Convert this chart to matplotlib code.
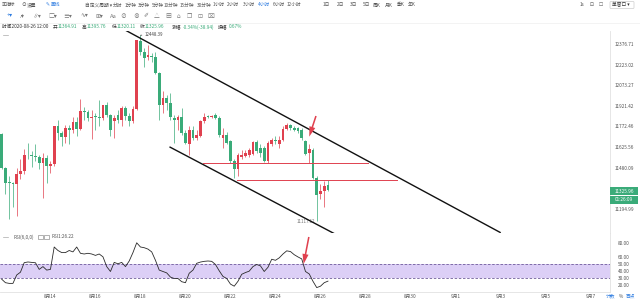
import matplotlib

matplotlib.use("Agg")
import matplotlib.pyplot as plt  # noqa: E402
from matplotlib.patches import Rectangle, FancyBboxPatch  # noqa: E402
import numpy as np  # noqa: E402

plt.rcParams["font.family"] = ["Noto Sans CJK SC", "DejaVu Sans"]

W, H = 640, 303  # output size in pixels

# --- data: 4h candles, BTC, index 0 = first visible candle -----------------
opens = [11720, 11478, 11380, 11376, 11372, 11440, 11456, 11575, 11570, 11563,
         11560, 11512, 11549, 11493, 11507, 11776, 11728, 11700, 11764, 11747,
         11805, 11760, 11886, 11882, 11836, 11846, 11846, 11834, 11928, 11860,
         11812, 11860, 11824, 11905, 11848, 11812, 11902, 12404, 12320, 12286,
         12291, 12286, 12163, 11932, 11981, 11945, 11836, 11824, 11843, 11728,
         11646, 11752, 11693, 11705, 11812, 11846, 11843, 11860, 11836, 11693,
         11710, 11670, 11528, 11470, 11560, 11568, 11575, 11582, 11662, 11622,
         11622, 11528, 11646, 11681, 11646, 11681, 11755, 11785, 11764, 11764,
         11752, 11670, 11585, 11610, 11412, 11297, 11320, 11364.91]
highs = [11730, 11485, 11423, 11385, 11482, 11540, 11615, 11658, 11600, 11646,
         11575, 11585, 11575, 11528, 11780, 11824, 11740, 11782, 11782, 11843,
         11843, 11974, 11918, 11896, 11896, 11872, 11969, 11930, 11950, 11865,
         11860, 11896, 11920, 11920, 11872, 11920, 12412, 12448.39, 12350, 12374,
         12311, 12320, 12175, 12030, 12005, 12017, 11860, 11860, 11908, 11752,
         11776, 11776, 11752, 11824, 11872, 11860, 11855, 11872, 11848, 11764,
         11733, 11681, 11540, 11587, 11610, 11610, 11622, 11670, 11681, 11646,
         11634, 11670, 11693, 11705, 11705, 11776, 11800, 11795, 11776, 11770,
         11764, 11681, 11652, 11620, 11423, 11366, 11389, 11395.76]
lows = [11470, 11297, 11130, 11210, 11148, 11400, 11435, 11545, 11490, 11528,
        11470, 11274, 11378, 11447, 11495, 11681, 11634, 11658, 11646, 11728,
        11705, 11752, 11824, 11812, 11686, 11752, 11776, 11824, 11846, 11705,
        11693, 11800, 11776, 11824, 11776, 11800, 11895, 12299, 12212, 12262,
        12250, 12160, 11824, 11870, 11896, 11824, 11658, 11752, 11717, 11646,
        11575, 11681, 11681, 11700, 11800, 11836, 11838, 11830, 11700, 11622,
        11646, 11512, 11412, 11423, 11545, 11560, 11560, 11575, 11587, 11560,
        11520, 11512, 11634, 11646, 11622, 11670, 11752, 11752, 11745, 11730,
        11681, 11575, 11517, 11400, 11117.12, 11262, 11210, 11320.11]
closes = [11478, 11378, 11376, 11372, 11440, 11456, 11575, 11570, 11563, 11560,
          11512, 11549, 11493, 11507, 11776, 11728, 11700, 11764, 11747, 11805,
          11760, 11886, 11882, 11836, 11846, 11843, 11834, 11928, 11860, 11752,
          11836, 11819, 11908, 11853, 11812, 11902, 12412, 12324, 12276, 12299,
          12283, 12163, 11932, 11981, 11945, 11843, 11824, 11843, 11728, 11658,
          11752, 11693, 11710, 11812, 11846, 11843, 11846, 11836, 11710, 11710,
          11658, 11528, 11470, 11575, 11575, 11587, 11605, 11662, 11600, 11587,
          11528, 11658, 11681, 11670, 11681, 11755, 11788, 11764, 11752, 11740,
          11693, 11582, 11615, 11412, 11290, 11320, 11355, 11325.96]

rsi = [29, 24, 23, 23, 35, 39, 52.6, 53.6, 53, 52.5,
       43, 47, 42, 43, 75, 70, 67, 67, 70, 68,
       75, 66, 65, 66, 65, 63, 65, 61, 47, 40,
       53, 51, 53, 47, 55, 67, 81, 75, 74, 72,
       68, 56, 42, 40, 38, 32, 30, 30, 25.4, 24,
       37.5, 42, 51.7, 53.5, 54.5, 55, 54.5, 50, 41, 33,
       30, 22, 19, 26, 36, 38.5, 40.5, 47, 50, 48,
       40, 46, 57.5, 56, 59.5, 65, 69.5, 68.5, 64, 60.8,
       58, 40, 36.5, 26, 17, 19, 24, 26.22]

price_ticks = [12376.71, 12223.02, 12073.27, 11921.42, 11772.46,
               11625.56, 11480.09, 11194.99]
rsi_ticks = [80, 60, 50, 40, 30, 20]
rsi_band = (30, 50)

# candle index of each labelled midnight
day_ticks = [13, 25, 37, 49, 61, 73, 85, 97, 109, 121, 133, 145, 157]
day_labels = ["8月14", "8月16", "8月18", "8月20", "8月22", "8月24", "8月26",
              "8月28", "8月30", "9月1", "9月3", "9月5", "9月7"]

# drawn objects: (candle index, price) end points
upper_channel = ([32.9, 132.9], [12488, 11038])
lower_channel = ([44.9, 88.6], [11627, 11031])
support_lines = [(11515, 53.7, 97.7), (11397, 62.8, 105.3)]  # price, from, to
price_arrow = ((83.8, 11850), (82.0, 11702))  # tail, tip
rsi_arrow = ((81.9, 89.3), (80.5, 50.7))

last_price = "11325.96"
countdown = "01:26:09"

RED = "#e0414f"
GREEN = "#3aab79"
GRAY = "#555555"
BLUE = "#2f7de1"
FS = 3.4

fig = plt.figure(figsize=(W / 100, H / 100), dpi=100)
fig.patch.set_facecolor("white")


def rect(top, bottom, right=610):
    return [0, 1 - bottom / H, right / W, (bottom - top) / H]


ax = fig.add_axes(rect(31, 233))
ax_rsi = fig.add_axes(rect(233, 292))

# --- price panel -------------------------------------------------------------
x = np.arange(len(opens))
o, h, l, c = map(np.asarray, (opens, highs, lows, closes))
up = c >= o
colors = np.where(up, RED, GREEN)
ax.vlines(x, l, h, colors=colors, lw=0.5, zorder=2)
body = np.maximum(np.abs(c - o), 5)
ax.bar(x, body, bottom=np.minimum(o, c), width=0.75, color=colors, zorder=3)

ax.set_yscale("log")
ax.set_ylim(11034, 12480.5)
ax.set_xlim(-0.453, 162.2)
ax.yaxis.set_minor_locator(matplotlib.ticker.NullLocator())
ax.set_xticks([])
ax.set_yticks([])

ax.plot(*upper_channel, color="#111111", lw=1.0, zorder=4)
ax.plot(*lower_channel, color="#111111", lw=1.0, zorder=4)
for p, x0, x1 in support_lines:
    ax.plot([x0, x1], [p, p], color=RED, lw=0.7, zorder=4)

arrow_kw = dict(arrowstyle="simple,head_length=0.9,head_width=0.55,tail_width=0.14",
                color=RED, lw=0, shrinkA=0, shrinkB=0, mutation_scale=8)
ax.annotate("", xy=price_arrow[1], xytext=price_arrow[0], arrowprops=arrow_kw,
            zorder=6)

ax.annotate(f"{max(highs):.2f}", xy=(37, max(highs)), xytext=(3, 0.5),
            textcoords="offset points", fontsize=3.2, color="#444", va="center",
            arrowprops=dict(arrowstyle="-", color="#333", lw=0.5,
                            shrinkA=0, shrinkB=0))
ax.annotate(f"{min(lows):.2f}", xy=(84, min(lows)), xytext=(-1.5, -0.5),
            textcoords="offset points", fontsize=3.2, color="#777", va="center",
            ha="right")

ytr = ax.get_yaxis_transform()
for v in price_ticks:
    ax.text(1.023, v, f"{v:.2f}", transform=ytr, ha="center", va="center",
            fontsize=FS, color=GRAY, clip_on=False)

for a in (ax, ax_rsi):
    for side in ("left", "top"):
        a.spines[side].set_visible(False)
    for side in ("right", "bottom"):
        a.spines[side].set_color("#e2e2e2")
        a.spines[side].set_linewidth(0.6)

# --- RSI panel ---------------------------------------------------------------
ax_rsi.axhspan(*rsi_band, color="#dccff6", lw=0, zorder=1)
for v in rsi_band:
    ax_rsi.axhline(v, color="#6f5c9a", lw=0.6, ls=(0, (3, 2)), zorder=2)
ax_rsi.plot(x, rsi, color="#2a2a2a", lw=0.6, zorder=3)
ax_rsi.set_ylim(10.7, 95)
ax_rsi.set_xlim(ax.get_xlim())
ax_rsi.set_yticks([])
ax_rsi.set_xticks(day_ticks, day_labels)
ax_rsi.tick_params(axis="x", length=0, pad=1.6, labelsize=FS, labelcolor=GRAY)
ax_rsi.annotate("", xy=rsi_arrow[1], xytext=rsi_arrow[0], arrowprops=arrow_kw,
                zorder=6, annotation_clip=False)
rtr = ax_rsi.get_yaxis_transform()
for v in rsi_ticks:
    ax_rsi.text(1.023, v, f"{v:.2f}", transform=rtr, ha="center", va="center",
                fontsize=FS, color=GRAY, clip_on=False)

# --- header / decorations in pixel coordinates --------------------------------
bg = fig.add_axes([0, 0, 1, 1], zorder=10)
bg.set_xlim(0, W)
bg.set_ylim(H, 0)
bg.axis("off")
bg.patch.set_alpha(0)


def t(x0, y0, s, color=GRAY, size=FS, **kw):
    return bg.text(x0, y0, s, color=color, fontsize=size, va="center", **kw)


bg.plot([0, W], [22.5, 22.5], color="#eeeeee", lw=0.5)

toolbar = [(1.5, "▣"), (5.5, "指标"), (21, "⊙"), (26.5, "设置"),
           (85, "自定义周期 ▾"), (113, "分时"), (125, "1分钟"), (138, "3分钟"),
           (152, "5分钟"), (164, "10分钟"), (180, "15分钟"), (197, "30分钟"),
           (213, "1小时"), (227, "2小时"), (243, "3小时"), (273, "6小时"),
           (287, "12小时"), (323, "1日"), (337, "2日"), (350, "3日"), (363, "5日"),
           (373, "周K"), (385, "月K"), (397, "季K"), (408, "年K"), (580, "1s"),
           (590, "⊡"), (599, "☐")]
for x0, s in toolbar:
    t(x0, 5, s)
t(46, 5, "✎", BLUE)
t(50.5, 5, "画线", BLUE)
t(258, 5, "4小时", BLUE)
bg.add_patch(FancyBboxPatch((610, 1.5), 24, 7, boxstyle="round,pad=0,rounding_size=1",
                            fc="white", ec="#cccccc", lw=0.5))
t(612, 5, "单窗口 ▾", "#333")

icons = ["+▾", "⁄▾", "∥▾", "□▾", "≡▾", "∿▾", "⊞▾", "Aa", "⊘", "⊗", "✐",
         "△", "▤", "⌂", "❐", "⊡", "⌧"]
icon_x = [7, 20, 33, 48, 63, 80, 95, 110, 120, 133, 143, 154, 165, 177, 187,
          197, 208]
for x0, s in zip(icon_x, icons):
    t(x0, 16, s, BLUE if s == "+▾" else "#777", size=4.2)

# OHLC header of the hovered candle: (label x, label, value x, value)
hdr = [(53, "开", 58, "11364.91"), (82, "高", 87, "11395.76"),
       (112, "低", 117, "11320.11"), (140, "收", 145, last_price),
       (172, "涨幅", 182.5, "-0.34%(-38.94)"), (218, "振幅", 229, "0.67%")]
t(2, 27, "时间2020-08-26 12:00", "#333")
for lx, lab, vx, val in hdr:
    t(lx, 27, lab, "#333")
    t(vx, 27, val, GREEN)
bg.plot([3, 8], [35, 35], color="#aaaaaa", lw=0.5)

# RSI header
bg.plot([3, 8], [237, 237], color="#aaaaaa", lw=0.5)
t(13, 237, "RSI(6,0,0)")
for bx in (38, 44):
    bg.add_patch(Rectangle((bx, 234.5), 4.5, 4.5, fc="white", ec="#777", lw=0.4))
t(52, 237, "RSI1:26.22")

# current price tag
bg.add_patch(Rectangle((610, 187), 28, 8.3, fc=GREEN, ec="none"))
bg.add_patch(Rectangle((610, 195.7), 28, 8.3, fc=GREEN, ec="none"))
t(624, 191.2, last_price, "white", ha="center")
t(624, 199.9, countdown, "white", ha="center")

# bottom-right scale switches
t(606, 296, "计数", BLUE)
t(619, 296, "%")
t(626, 296, "百点", BLUE)

fig.savefig("out.png", dpi=100)
